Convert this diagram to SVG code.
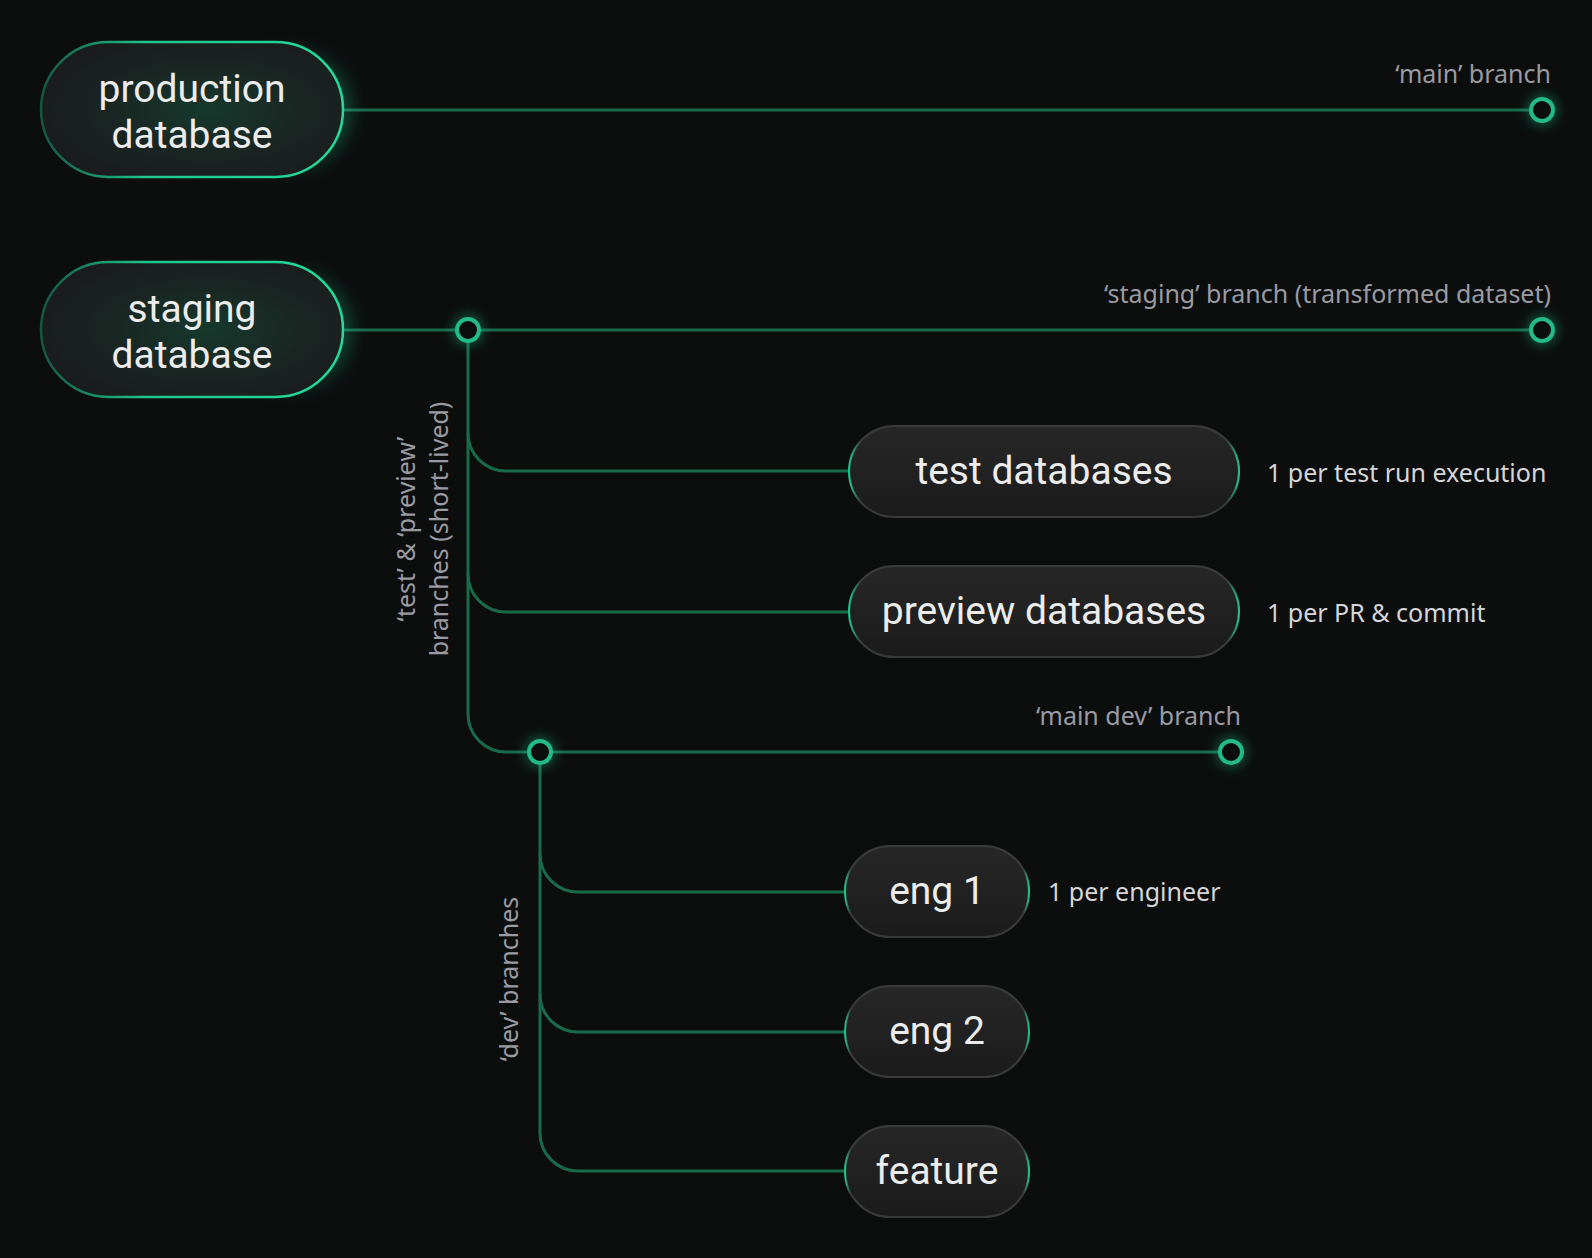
<svg xmlns="http://www.w3.org/2000/svg" width="1592" height="1258" viewBox="0 0 1592 1258">
<style>
.bg{fill:#0c0e0e}
.conn{fill:none;stroke:#186a4b;stroke-width:3}
.dot{fill:#0c0e0e;stroke:#22bb88;stroke-width:4}
.halo{fill:#1fc88e;opacity:0.35}
.ntxt{font-family:Roboto,"Liberation Sans",sans-serif;font-size:39px;fill:#ececec;text-anchor:middle}
.lbl{font-family:"Noto Sans","Liberation Sans",sans-serif;font-size:25px;fill:#9a9ba2}
.note{font-family:"Noto Sans","Liberation Sans",sans-serif;font-size:25px;fill:#d6d6d8}
.big{fill:url(#bigFill);stroke:url(#bigStroke);stroke-width:2.5}
.small{fill:url(#smallFill);stroke:url(#smallStroke);stroke-width:2}
</style>
<defs>
<radialGradient id="bigFill" cx="0.55" cy="0.5" r="0.6">
<stop offset="0" stop-color="#16392d"/>
<stop offset="0.55" stop-color="#1a2522"/>
<stop offset="1" stop-color="#1a1b1d"/>
</radialGradient>
<linearGradient id="bigStroke" x1="0" y1="0" x2="1" y2="0">
<stop offset="0" stop-color="#145640"/>
<stop offset="0.35" stop-color="#1fc88d"/>
<stop offset="1" stop-color="#22dc9a"/>
</linearGradient>
<linearGradient id="smallFill" x1="0" y1="0" x2="0" y2="1">
<stop offset="0" stop-color="#272727"/>
<stop offset="1" stop-color="#1b1b1b"/>
</linearGradient>
<linearGradient id="smallStroke" x1="0" y1="0" x2="1" y2="0">
<stop offset="0" stop-color="#1fc88d"/>
<stop offset="0.03" stop-color="#3a3a3a"/>
<stop offset="0.97" stop-color="#3a3a3a"/>
<stop offset="1" stop-color="#1fc88d"/>
</linearGradient>
<filter id="glow" x="-50%" y="-50%" width="200%" height="200%">
<feGaussianBlur stdDeviation="10"/>
</filter>
<filter id="glowS" x="-100%" y="-100%" width="300%" height="300%">
<feGaussianBlur stdDeviation="6"/>
</filter>
</defs>
<rect class="bg" x="0" y="0" width="1592" height="1258"/>

<g id="connectors">
<path class="conn" d="M343,110 H1531"/>
<path class="conn" d="M343,330 H1531"/>
<path class="conn" d="M468,342 V714 A38,38 0 0 0 506,752 H1220"/>
<path class="conn" d="M468,433 A38,38 0 0 0 506,471 H849"/>
<path class="conn" d="M468,574 A38,38 0 0 0 506,612 H849"/>
<path class="conn" d="M540,764 V1133 A38,38 0 0 0 578,1171 H845"/>
<path class="conn" d="M540,854 A38,38 0 0 0 578,892 H845"/>
<path class="conn" d="M540,994 A38,38 0 0 0 578,1032 H845"/>
</g>

<g id="dot-main">
<circle class="halo" cx="1542" cy="110" r="16" filter="url(#glowS)"/>
<circle class="dot" cx="1542" cy="110" r="11"/>
</g>
<g id="dot-staging-start">
<circle class="halo" cx="468" cy="330" r="16" filter="url(#glowS)"/>
<circle class="dot" cx="468" cy="330" r="11"/>
</g>
<g id="dot-staging-end">
<circle class="halo" cx="1542" cy="330" r="16" filter="url(#glowS)"/>
<circle class="dot" cx="1542" cy="330" r="11"/>
</g>
<g id="dot-maindev-start">
<circle class="halo" cx="540" cy="752" r="16" filter="url(#glowS)"/>
<circle class="dot" cx="540" cy="752" r="11"/>
</g>
<g id="dot-maindev-end">
<circle class="halo" cx="1231" cy="752" r="16" filter="url(#glowS)"/>
<circle class="dot" cx="1231" cy="752" r="11"/>
</g>

<g id="production">
<rect x="230" y="55" width="120" height="110" rx="55" fill="#1fc88e" opacity="0.35" filter="url(#glow)"/>
<rect class="big" x="41" y="42" width="302" height="135" rx="67.5"/>
<text class="ntxt" x="192" y="102">production</text>
<text class="ntxt" x="192" y="148">database</text>
</g>

<g id="staging">
<rect x="230" y="275" width="120" height="110" rx="55" fill="#1fc88e" opacity="0.35" filter="url(#glow)"/>
<rect class="big" x="41" y="262" width="302" height="135" rx="67.5"/>
<text class="ntxt" x="192" y="322">staging</text>
<text class="ntxt" x="192" y="368">database</text>
</g>

<g id="test-databases">
<rect class="small" x="849" y="426" width="390" height="91" rx="45.5"/>
<text class="ntxt" x="1044" y="484">test databases</text>
</g>
<g id="preview-databases">
<rect class="small" x="849" y="566" width="390" height="91" rx="45.5"/>
<text class="ntxt" x="1044" y="624">preview databases</text>
</g>
<g id="eng1">
<rect class="small" x="845" y="846" width="184" height="91" rx="45.5"/>
<text class="ntxt" x="937" y="904">eng 1</text>
</g>
<g id="eng2">
<rect class="small" x="845" y="986" width="184" height="91" rx="45.5"/>
<text class="ntxt" x="937" y="1044">eng 2</text>
</g>
<g id="feature">
<rect class="small" x="845" y="1126" width="184" height="91" rx="45.5"/>
<text class="ntxt" x="937" y="1184">feature</text>
</g>

<g id="labels">
<text class="lbl" x="1551" y="83" text-anchor="end">‘main’ branch</text>
<text class="lbl" x="1551" y="303" text-anchor="end">‘staging’ branch (transformed dataset)</text>
<text class="lbl" x="1241" y="725" text-anchor="end">‘main dev’ branch</text>
<text class="note" x="1267" y="482">1 per test run execution</text>
<text class="note" x="1267" y="622">1 per PR &amp; commit</text>
<text class="note" x="1048" y="901">1 per engineer</text>
<text class="lbl" transform="translate(415,529) rotate(-90)" text-anchor="middle">‘test’  &amp; ‘preview’</text>
<text class="lbl" transform="translate(448,529) rotate(-90)" text-anchor="middle">branches (short-lived)</text>
<text class="lbl" transform="translate(518,979) rotate(-90)" text-anchor="middle">‘dev’ branches</text>
</g>
</svg>
